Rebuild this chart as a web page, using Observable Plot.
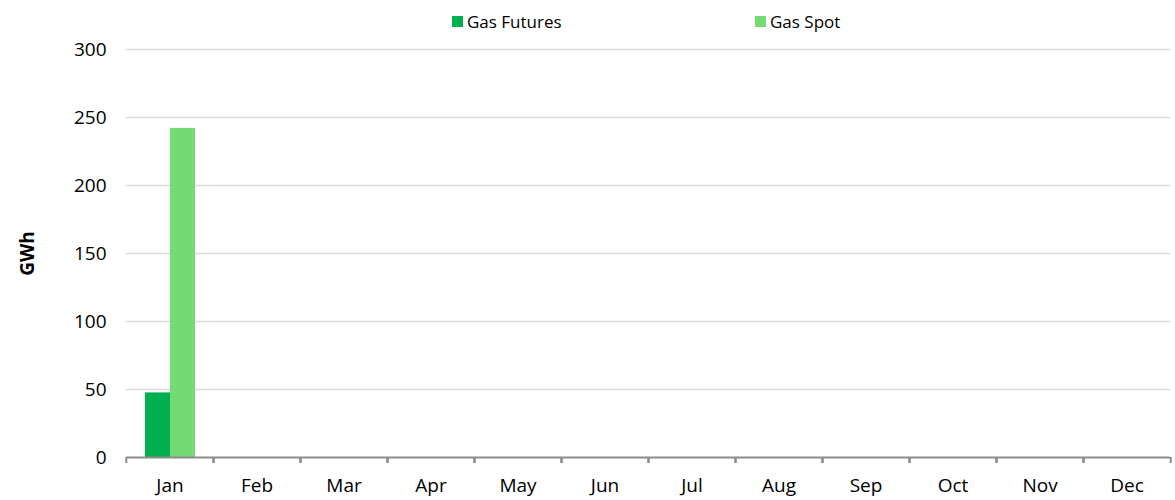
<!DOCTYPE html>
<html>
<head>
<meta charset="utf-8">
<script src="https://cdn.jsdelivr.net/npm/d3@7"></script>
<script src="https://cdn.jsdelivr.net/npm/@observablehq/plot@0.6"></script>
<style>
  body { margin: 0; background: #fff; font-family: "Open Sans", sans-serif; }
  #legend { position: relative; height: 40px; width: 1175px; font-size: 17px; color: #000; }
  .item { position: absolute; top: 10px; display: flex; align-items: center; }
  .sw { width: 11px; height: 11px; margin-right: 4px; }
</style>
</head>
<body>
<div id="legend"></div>
<div id="chart"></div>
<script>
const months = ["Jan","Feb","Mar","Apr","May","Jun","Jul","Aug","Sep","Oct","Nov","Dec"];
const seriesNames = ["Gas Futures", "Gas Spot"];
const futures = [47.5, null, null, null, null, null, null, null, null, null, null, null];
const spot = [242, null, null, null, null, null, null, null, null, null, null, null];
const yTicks = [0, 50, 100, 150, 200, 250, 300];
const colors = ["#00b050", "#74db74"];

const data = [];
months.forEach((m, i) => {
  data.push({month: m, series: seriesNames[0], value: futures[i]});
  data.push({month: m, series: seriesNames[1], value: spot[i]});
});

// legend
const legend = document.getElementById("legend");
const legendX = [452, 755];
seriesNames.forEach((s, i) => {
  const d = document.createElement("div");
  d.className = "item";
  d.style.left = legendX[i] + "px";
  d.innerHTML = `<span class="sw" style="background:${colors[i]}"></span><span>${s}</span>`;
  legend.appendChild(d);
});

const bandHalf = (1172 - 123) / 12 / 2;

const chart = Plot.plot({
  width: 1175,
  height: 460,
  marginTop: 9,
  marginBottom: 43,
  marginLeft: 123,
  marginRight: 3,
  style: {fontFamily: "Open Sans, sans-serif", fontSize: "18px", color: "#000", background: "#fff", overflow: "visible"},
  fx: {domain: months, padding: 0, label: null},
  x: {domain: seriesNames, axis: null, paddingInner: 0, paddingOuter: 0.72},
  y: {domain: [0, 300], label: null},
  color: {domain: seriesNames, range: colors},
  marks: [
    Plot.gridY(yTicks.filter(t => t > 0), {stroke: "#d9d9d9", strokeOpacity: 1, strokeWidth: 1.3}),
    Plot.barY(data, {fx: "month", x: "series", y: "value", fill: "series"}),
    Plot.ruleY([0], {stroke: "#8c8c8c", strokeWidth: 2}),
    Plot.axisY({ticks: yTicks, tickSize: 0, tickPadding: 20, label: "GWh", labelAnchor: "center", labelOffset: 106, labelArrow: "none", fontSize: 19}),
    Plot.axisFx({anchor: "bottom", tickSize: 6, tickFormat: () => "", dx: -bandHalf, stroke: "#8c8c8c", strokeWidth: 2, label: null}),
    Plot.axisFx({anchor: "bottom", tickSize: 6, tickFormat: () => "", dx: bandHalf, stroke: "#8c8c8c", strokeWidth: 2, label: null}),
    Plot.axisFx({anchor: "bottom", tickSize: 0, tickPadding: 21, fontSize: 19, label: null})
  ]
});
document.getElementById("chart").appendChild(chart);
d3.select(chart).selectAll('[aria-label="y-axis label"] text, [aria-label="y-axis label"]').attr("font-weight", "bold");
</script>
</body>
</html>
